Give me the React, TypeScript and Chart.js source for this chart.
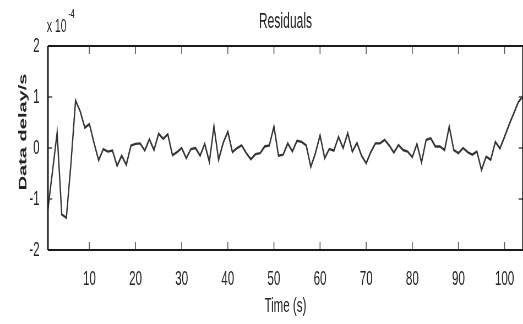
import React, { useEffect, useRef } from 'react';
import { Chart, registerables } from 'chart.js';

Chart.register(...registerables);

const TIME = [
  1, 2, 3, 4, 5, 6, 7, 8, 9, 10, 11, 12, 13, 14, 15, 16, 17, 18, 19, 20,
  21, 22, 23, 24, 25, 26, 27, 28, 29, 30, 31, 32, 33, 34, 35, 36, 37, 38, 39, 40,
  41, 42, 43, 44, 45, 46, 47, 48, 49, 50, 51, 52, 53, 54, 55, 56, 57, 58, 59, 60,
  61, 62, 63, 64, 65, 66, 67, 68, 69, 70, 71, 72, 73, 74, 75, 76, 77, 78, 79, 80,
  81, 82, 83, 84, 85, 86, 87, 88, 89, 90, 91, 92, 93, 94, 95, 96, 97, 98, 99, 100,
  101, 102, 103, 104,
];

// Residuals in units of 1e-4 s
const RESIDUALS = [
  -1.2, -0.45, 0.3, -1.3, -1.37, -0.3, 0.93, 0.72, 0.4, 0.47,
  0.1, -0.24, -0.02, -0.07, -0.05, -0.35, -0.15, -0.33, 0.05, 0.08,
  0.09, -0.05, 0.17, -0.04, 0.28, 0.18, 0.27, -0.14, -0.08, 0.0,
  -0.2, -0.02, 0.0, -0.15, 0.08, -0.27, 0.43, -0.23, 0.1, 0.32,
  -0.08, 0.0, 0.05, -0.1, -0.22, -0.12, -0.1, 0.03, 0.05, 0.42,
  -0.15, -0.13, 0.09, -0.07, 0.14, 0.12, 0.05, -0.37, -0.1, 0.25,
  -0.2, -0.02, -0.05, 0.22, 0.0, 0.29, -0.07, 0.1, -0.15, -0.3,
  -0.08, 0.09, 0.09, 0.16, 0.05, -0.09, 0.06, -0.04, -0.07, -0.18,
  0.08, -0.28, 0.16, 0.19, 0.03, 0.03, -0.04, 0.42, -0.04, -0.1,
  0.0, -0.08, -0.13, -0.07, -0.43, -0.17, -0.23, 0.12, -0.01, 0.22,
  0.46, 0.68, 0.9, 1.02,
];

const X_TICKS = [10, 20, 30, 40, 50, 60, 70, 80, 90, 100];
const Y_TICKS = [-2, -1, 0, 1, 2];

const TITLE = 'Residuals';
const X_TITLE = 'Time (s)';
const Y_TITLE = 'Data delay/s';
const EXP_BASE = 'x 10';
const EXP_POWER = '-4';

const FONT = '"Liberation Sans", Arial, sans-serif';
const INTERNAL_W = 950;
const H = 324;

const framePlugin = {
  id: 'matlabFrame',
  afterDraw(chart: any) {
    const { ctx, chartArea, scales } = chart;
    const { left, right, top, bottom } = chartArea;
    const xs = scales.x;
    const ys = scales.y;
    const line = (x1: number, y1: number, x2: number, y2: number) => {
      ctx.beginPath();
      ctx.moveTo(x1, y1);
      ctx.lineTo(x2, y2);
      ctx.stroke();
    };
    ctx.save();
    ctx.strokeStyle = '#555';
    ctx.lineWidth = 1.6;
    X_TICKS.forEach((v) => {
      const px = xs.getPixelForValue(v);
      line(px, bottom, px, bottom - 8);
      line(px, top, px, top + 8);
    });
    Y_TICKS.forEach((v) => {
      const py = ys.getPixelForValue(v);
      line(left, py, left + 8, py);
      line(right, py, right - 8, py);
    });
    ctx.strokeStyle = '#1a1a1a';
    ctx.lineWidth = 2;
    line(left, top, right, top);
    line(left, bottom, right, bottom);
    ctx.lineWidth = 3;
    line(left, top, left, bottom);
    line(right, top, right, bottom);

    ctx.fillStyle = '#222';
    ctx.textAlign = 'left';
    ctx.textBaseline = 'alphabetic';
    ctx.font = `19px ${FONT}`;
    ctx.fillText(EXP_BASE, 85, 32);
    ctx.font = `13px ${FONT}`;
    ctx.fillText(EXP_POWER, 124, 18);

    ctx.translate(42, 132);
    ctx.rotate(-Math.PI / 2);
    ctx.font = `bold 20px ${FONT}`;
    ctx.textAlign = 'center';
    ctx.textBaseline = 'middle';
    ctx.fillText(Y_TITLE, 0, 0);
    ctx.restore();
  },
};

export default function App() {
  const ref = useRef<HTMLCanvasElement | null>(null);

  useEffect(() => {
    if (!ref.current) return;
    const chart = new Chart(ref.current, {
      type: 'line',
      data: {
        datasets: [
          {
            data: TIME.map((t, i) => ({ x: t, y: RESIDUALS[i] })),
            borderColor: '#333',
            borderWidth: 2.4,
            pointRadius: 0,
            tension: 0,
            fill: false,
          },
        ],
      },
      options: {
        responsive: false,
        animation: false,
        devicePixelRatio: 1,
        layout: { padding: 0 },
        plugins: {
          legend: { display: false },
          tooltip: { enabled: false },
          title: {
            display: true,
            text: TITLE,
            fullSize: false,
            color: '#222',
            font: { family: FONT, size: 22, weight: 'normal' },
            padding: { top: 8.3, bottom: 11.3 },
          },
        },
        scales: {
          x: {
            type: 'linear',
            min: 1,
            max: 104,
            grid: { display: false },
            border: { display: false },
            afterBuildTicks: (s: any) => {
              s.ticks = X_TICKS.map((v) => ({ value: v }));
            },
            afterFit: (s: any) => {
              s.height = H - 250;
              s.paddingLeft = 0;
              s.paddingRight = 0;
            },
            ticks: {
              color: '#222',
              padding: 9,
              maxRotation: 0,
              autoSkip: false,
              font: { family: FONT, size: 21 },
              callback: (v: any) => String(v),
            },
            title: {
              display: true,
              text: X_TITLE,
              color: '#222',
              font: { family: FONT, size: 21 },
              padding: { top: 0, bottom: 5.4 },
            },
          },
          y: {
            type: 'linear',
            min: -2,
            max: 2,
            grid: { display: false },
            border: { display: false },
            afterBuildTicks: (s: any) => {
              s.ticks = Y_TICKS.map((v) => ({ value: v }));
            },
            afterFit: (s: any) => {
              s.width = 87;
              s.paddingTop = 0;
              s.paddingBottom = 0;
            },
            ticks: {
              color: '#222',
              padding: 7,
              autoSkip: false,
              font: { family: FONT, size: 21 },
              callback: (v: any) => String(v),
            },
          },
        },
      },
      plugins: [framePlugin],
    });
    return () => chart.destroy();
  }, []);

  return (
    <div style={{ position: 'fixed', left: 0, top: 0, width: 523, height: H, background: '#fff' }}>
      <canvas
        ref={ref}
        width={INTERNAL_W}
        height={H}
        style={{ width: '523px', height: `${H}px`, display: 'block' }}
      />
    </div>
  );
}
